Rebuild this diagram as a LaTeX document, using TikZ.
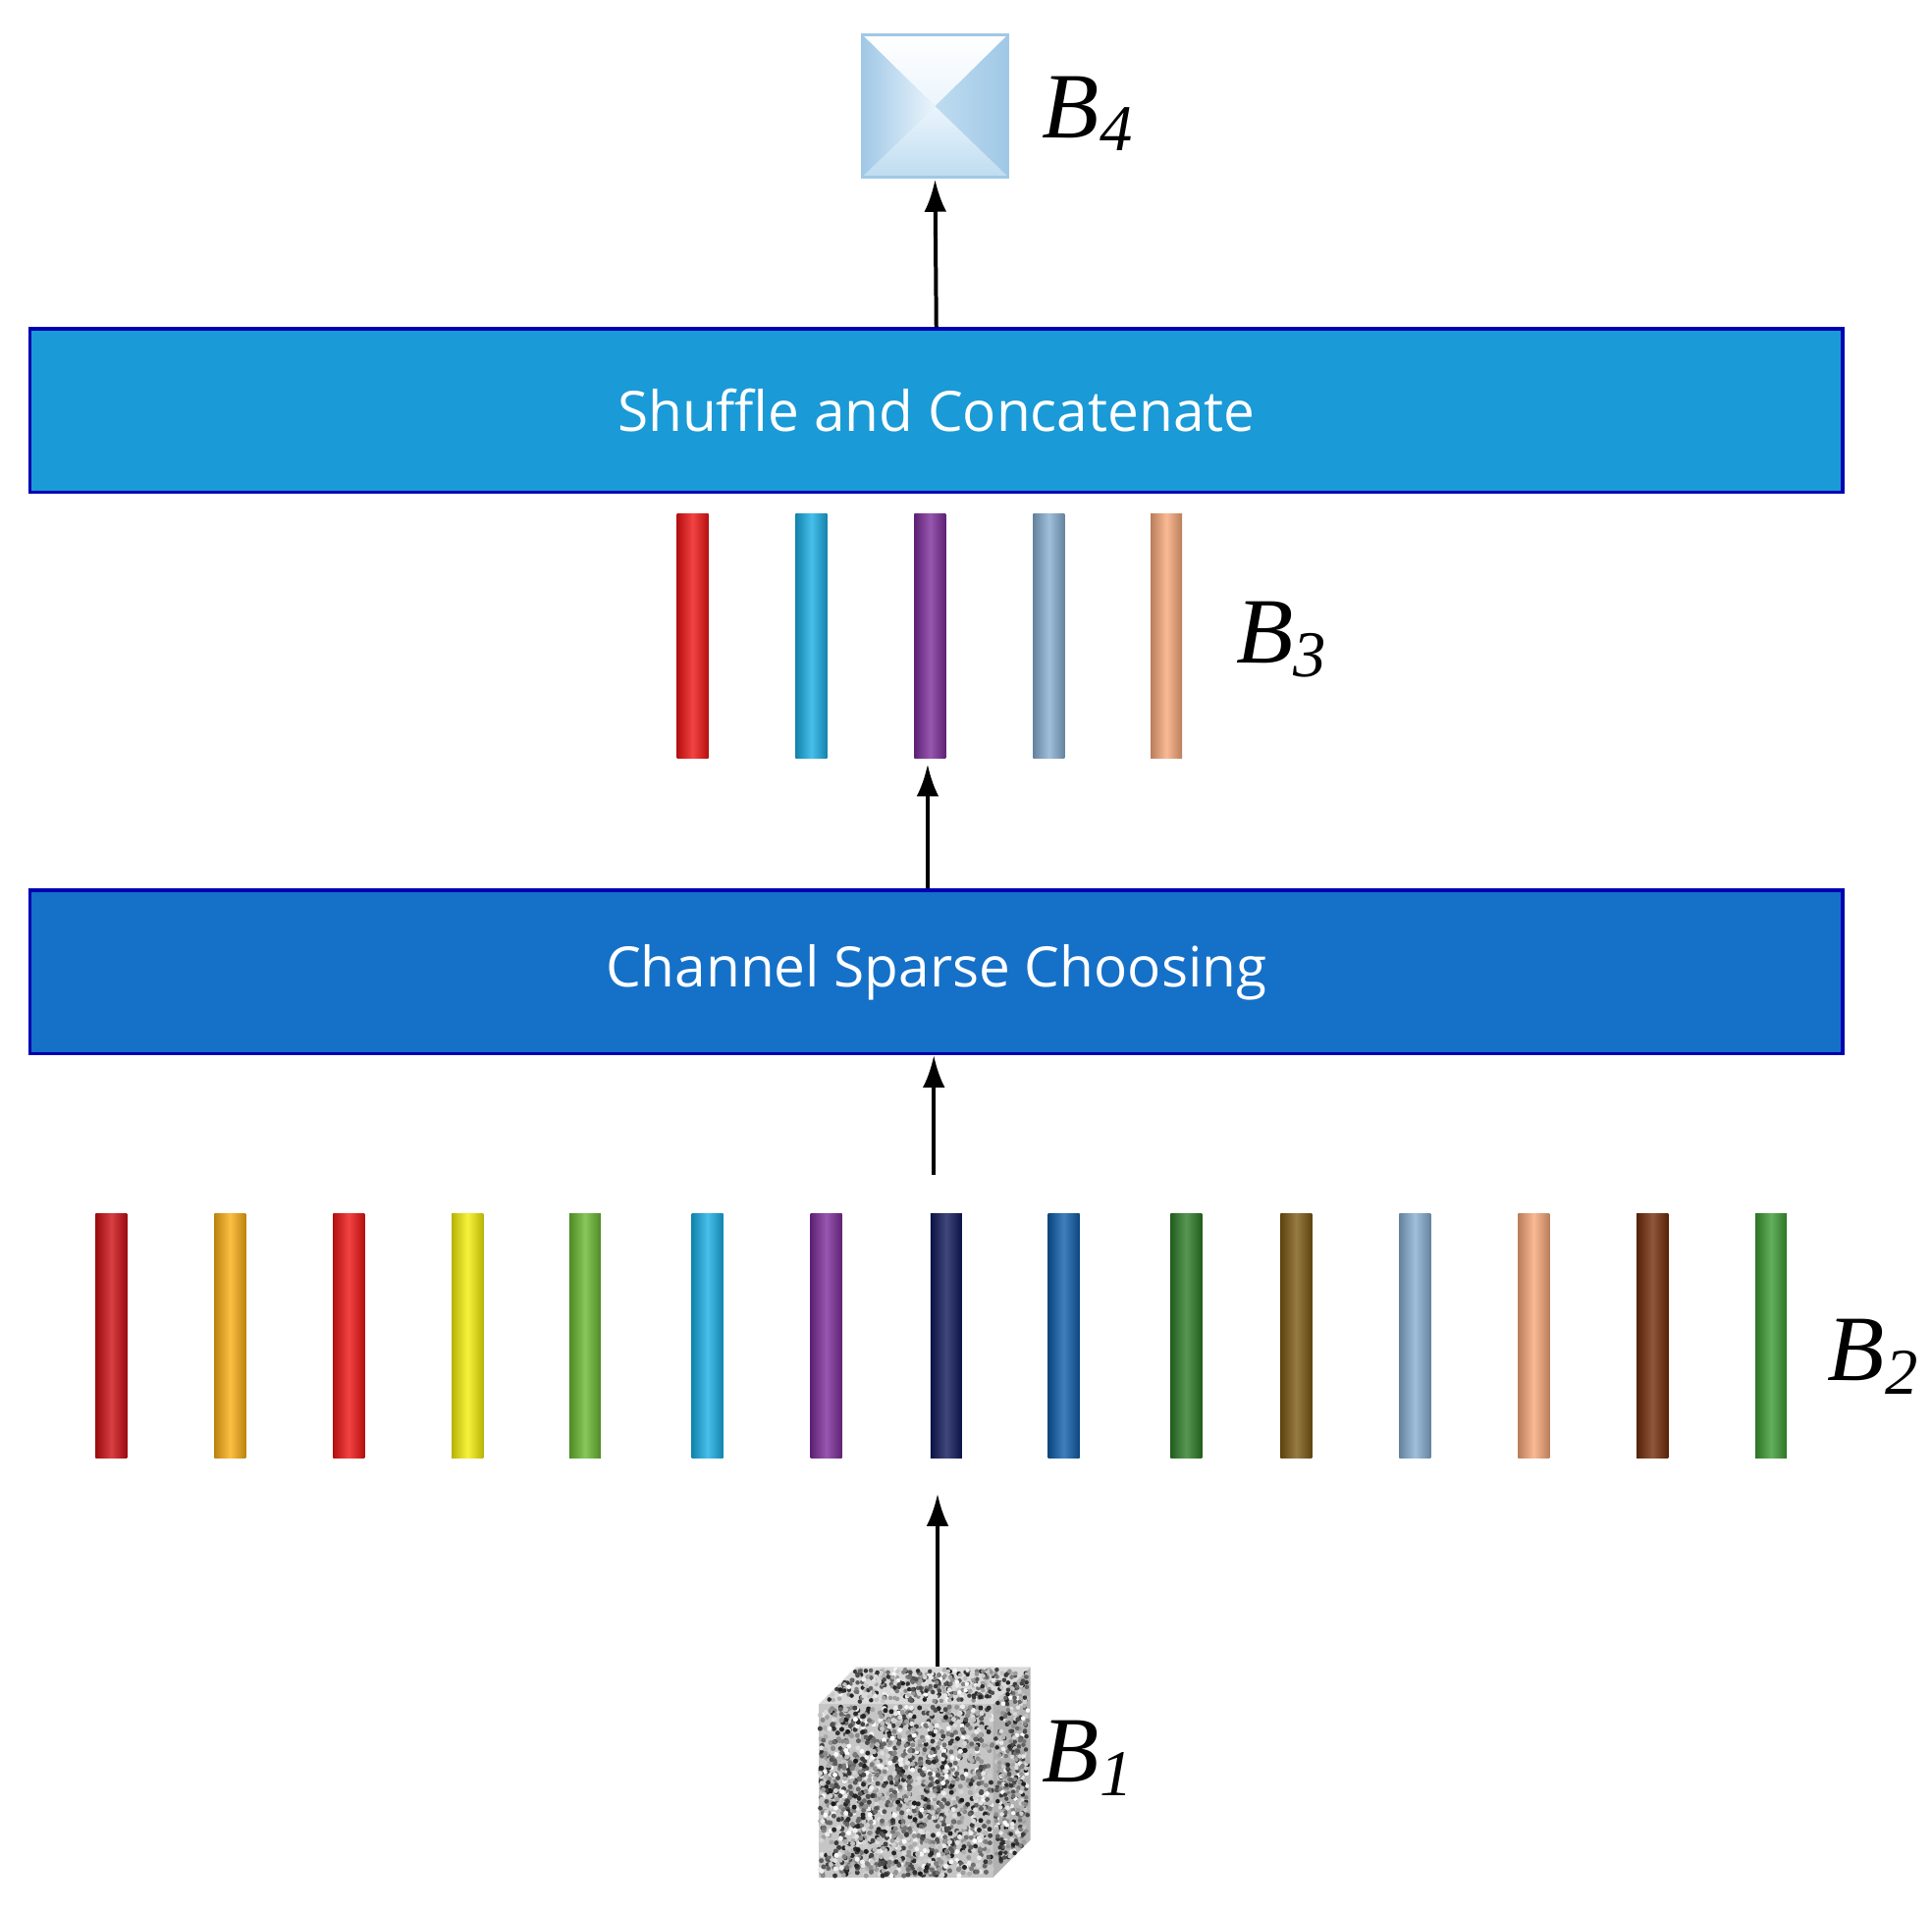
\documentclass[tikz,border=0pt]{standalone}
\usepackage{fontspec}
\setmainfont{Liberation Serif}
\newfontfamily\barfont{Open Sans}
\usetikzlibrary{arrows.meta}
\definecolor{cRed}{RGB}{240,20,20}
\definecolor{cDRed}{RGB}{205,15,20}
\definecolor{cOra}{RGB}{250,175,20}
\definecolor{cYel}{RGB}{245,240,10}
\definecolor{cGrn}{RGB}{105,185,50}
\definecolor{cCya}{RGB}{25,175,230}
\definecolor{cPur}{RGB}{125,45,155}
\definecolor{cNav}{RGB}{15,25,90}
\definecolor{cBlu}{RGB}{15,95,170}
\definecolor{cDGr}{RGB}{45,125,40}
\definecolor{cOli}{RGB}{125,90,20}
\definecolor{cSte}{RGB}{135,175,210}
\definecolor{cPea}{RGB}{248,168,122}
\definecolor{cBro}{RGB}{115,45,10}
\definecolor{cGr2}{RGB}{60,155,50}
\definecolor{bxA}{RGB}{235,245,252}
\definecolor{bxB}{RGB}{190,220,240}
\definecolor{bxC}{RGB}{160,200,230}
\begin{document}
\begin{tikzpicture}[x=0.01cm,y=-0.01cm,
  arr/.style={-{Latex[length=0.26cm,width=0.18cm]},line width=0.9pt},
  band/.style={draw=black!30!blue,line width=0.8pt,minimum width=14.65cm,minimum height=1.32cm,text=white,font=\barfont\fontsize{12.8}{15}\selectfont},
  lbl/.style={font=\fontsize{21.5}{24}\selectfont\itshape},
  bar/.style={minimum width=0.24cm,minimum height=1.96cm,inner sep=0}]
\useasboundingbox (0,0) rectangle (1562,1545);
% B4
\node[inner sep=0,minimum size=1.17cm] (b4) at (756,86) {};
\fill[bxB] (697,28) rectangle (815,143);
\shade[top color=white,bottom color=bxA] (697,28) -- (815,28) -- (756,86) -- cycle;
\shade[left color=bxB,right color=bxC] (815,28) -- (815,143) -- (756,86) -- cycle;
\shade[top color=bxA,bottom color=bxB] (697,143) -- (815,143) -- (756,86) -- cycle;
\shade[left color=bxC,right color=bxA] (697,28) -- (697,143) -- (756,86) -- cycle;
\draw[bxC,line width=0.6pt] (697,28) rectangle (815,143);
\node[lbl] (l4) at (880,92) {B\textsubscript{4}};
% bands
\node[band,fill={rgb,255:red,26;green,154;blue,214}] (sc) at (757,332) {Shuffle and Concatenate};
\node[band,fill={rgb,255:red,21;green,112;blue,200}] (cs) at (757,786) {Channel Sparse Choosing};
% B3 bars
\foreach \x/\c [count=\i] in {560/cRed,656/cCya,752/cPur,848/cSte,943/cPea}{
  \node[bar] (t\i) at (\x,514) {};
  \shade[left color=\c!75!black,right color=\c!75!black,middle color=\c!80!white] (t\i.south west) rectangle (t\i.north east);}
\node[lbl] (l3) at (1037,517) {B\textsubscript{3}};
% B2 bars
\foreach \x/\c [count=\i] in {90/cDRed,186/cOra,282/cRed,378/cYel,473/cGrn,572/cCya,668/cPur,765/cNav,860/cBlu,959/cDGr,1048/cOli,1144/cSte,1240/cPea,1336/cBro,1432/cGr2}{
  \node[bar] (m\i) at (\x,1080) {};
  \shade[left color=\c!75!black,right color=\c!75!black,middle color=\c!80!white] (m\i.south west) rectangle (m\i.north east);}
\node[lbl] (l2) at (1515,1097) {B\textsubscript{2}};
% B1 cube
\node[inner sep=0,minimum size=1.7cm] (b1) at (748,1433) {};
\fill[gray!45] (662,1378) rectangle (803,1518);
\fill[gray!60] (803,1378) -- (833,1348) -- (833,1488) -- (803,1518) -- cycle;
\fill[gray!30] (662,1378) -- (692,1348) -- (833,1348) -- (803,1378) -- cycle;
\pgfmathsetseed{7}
\foreach \k in {1,...,1800}{
  \pgfmathsetmacro{\px}{663+rnd*139}\pgfmathsetmacro{\py}{1380+rnd*137}\pgfmathsetmacro{\g}{rnd*90}
  \fill[black!\g] (\px,\py) circle (2);}
\foreach \k in {1,...,400}{
  \pgfmathsetmacro{\u}{rnd}\pgfmathsetmacro{\v}{rnd}\pgfmathsetmacro{\g}{rnd*90}
  \fill[black!\g] ({805+\u*26},{1376-\u*26+\v*138}) circle (1.8);
  \fill[black!\g] ({666+\v*134+\u*26},{1376-\u*26}) circle (1.8);}
\node[lbl] (l1) at (880,1422) {B\textsubscript{1}};
% arrows
\draw[arr] (sc.north) -- (b4.south);
\draw[arr] (cs.north -| 750,0) -- (750,618);
\draw[arr] (755,950) -- (cs.south -| 755,0);
\draw[arr] (758,1348) -- (758,1208);
\end{tikzpicture}
\end{document}
